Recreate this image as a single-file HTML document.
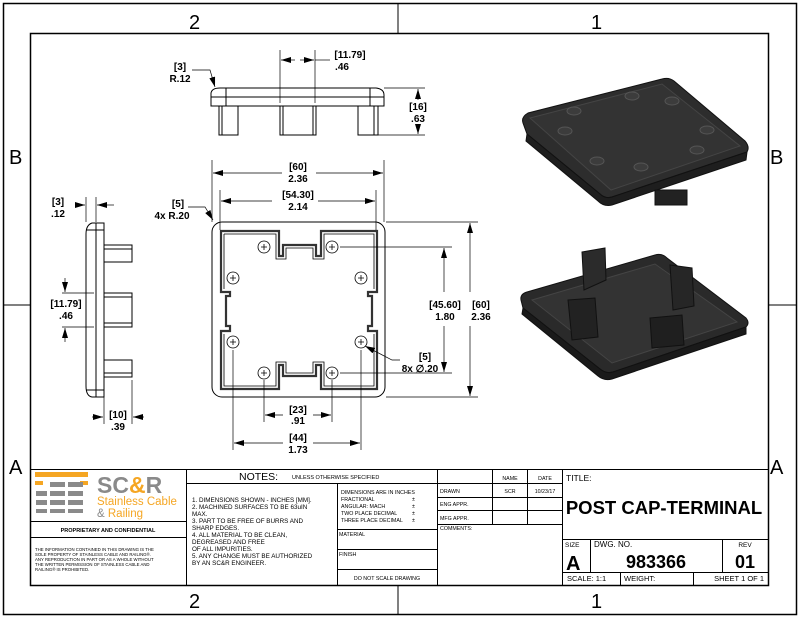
<!DOCTYPE html>
<html><head><meta charset="utf-8"><style>
html,body{margin:0;padding:0;background:#fff}
svg{display:block}
text{font-family:"Liberation Sans",Arial,sans-serif;fill:#000}
</style></head><body>
<svg width="800" height="618" viewBox="0 0 800 618" xmlns="http://www.w3.org/2000/svg">
<defs>
<marker id="ar" viewBox="0 0 10 6" refX="10" refY="3" markerWidth="10" markerHeight="6" orient="auto-start-reverse" markerUnits="userSpaceOnUse"><path d="M0,0 L10,3 L0,6 z" fill="#000"/></marker>
</defs>
<!-- frame -->
<rect x="3.5" y="3.5" width="793" height="611" fill="none" stroke="#000" stroke-width="1.5"/>
<rect x="30.5" y="33.5" width="738" height="552" fill="none" stroke="#000" stroke-width="1.5"/>
<line x1="398" y1="4" x2="398" y2="33" stroke="#000"/>
<line x1="398" y1="586" x2="398" y2="614" stroke="#000"/>
<line x1="4" y1="305" x2="30" y2="305" stroke="#000"/>
<line x1="769" y1="305" x2="796" y2="305" stroke="#000"/>
<g font-size="20">
<text x="189" y="29">2</text><text x="591" y="29">1</text>
<text x="189" y="608">2</text><text x="591" y="608">1</text>
<text x="9" y="164">B</text><text x="770" y="164">B</text>
<text x="9" y="474">A</text><text x="770" y="474">A</text>
</g>

<g stroke="#000" fill="none" stroke-width="1">
<!-- top view -->
<path d="M211,106 L211,93 Q212,88 220,88 L376,88 Q384,89 384,95 L384,106 Z"/>
<line x1="226" y1="88" x2="226" y2="106"/><line x1="370" y1="88" x2="370" y2="106"/>
<line x1="211" y1="97" x2="384" y2="97"/>
<rect x="219" y="106" width="19" height="29"/><line x1="222" y1="106" x2="222" y2="135"/>
<rect x="280" y="106" width="36" height="29"/><line x1="283" y1="106" x2="283" y2="135"/><line x1="313" y1="106" x2="313" y2="135"/>
<rect x="358" y="106" width="20" height="29"/><line x1="374" y1="106" x2="374" y2="135"/>
<!-- side view -->
<path d="M104,223 L92,223 Q86,225 86,234 L86,386 Q86,396 92,397 L104,397 Z"/>
<line x1="96" y1="223" x2="96" y2="397"/><line x1="86" y1="230" x2="104" y2="230"/><line x1="86" y1="390" x2="104" y2="390"/>
<rect x="104" y="245" width="28" height="17"/><line x1="104" y1="249" x2="132" y2="249"/>
<rect x="104" y="293" width="28" height="34"/><line x1="104" y1="297" x2="132" y2="297"/><line x1="104" y1="323" x2="132" y2="323"/>
<rect x="104" y="360" width="28" height="17"/><line x1="104" y1="373" x2="132" y2="373"/>
<!-- front view -->
<rect x="212" y="222" width="173" height="175" rx="10"/>
</g>
<g stroke="#333" fill="none" stroke-width="2.2">
<path d="M221,231 L279,231 L279,256 L283,256 L283,245 L316,245 L316,256 L321,256 L321,231 L377,231 L377,292 L368,292 L368,296 L372,296 L372,326 L368,326 L368,331 L377,331 L377,389 L321,389 L321,365 L316,365 L316,376 L283,376 L283,365 L279,365 L279,389 L221,389 L221,331 L230,331 L230,326 L226,326 L226,296 L230,296 L230,292 L221,292 Z"/>
</g>
<g stroke="#000" fill="none" stroke-width="0.8">
<path d="M224,234 L276,234 L276,259 L286,259 L286,248 L313,248 L313,259 L324,259 L324,234 L374,234 L374,289 M374,334 L374,386 L324,386 L324,362 L313,362 L313,373 L286,373 L286,362 L276,362 L276,386 L224,386 L224,334 M224,289 L224,234"/>
<circle cx="264" cy="247" r="6"/><circle cx="332" cy="247" r="6"/>
<circle cx="233" cy="278" r="6"/><circle cx="361" cy="278" r="6"/>
<circle cx="233" cy="342" r="6"/><circle cx="361" cy="342" r="6"/>
<circle cx="264" cy="373" r="6"/><circle cx="332" cy="373" r="6"/>
<path d="M261,247h6M264,244v6M329,247h6M332,244v6M230,278h6M233,275v6M358,278h6M361,275v6M230,342h6M233,339v6M358,342h6M361,339v6M261,373h6M264,370v6M329,373h6M332,370v6"/>
</g>

<!-- dimensions -->
<g stroke="#000" stroke-width="0.7" fill="none">
<line x1="212" y1="160" x2="212" y2="222"/><line x1="384" y1="160" x2="384" y2="222"/>
<line x1="213" y1="173" x2="282" y2="173" marker-start="url(#ar)"/><line x1="316" y1="173" x2="383" y2="173" marker-end="url(#ar)"/>
<line x1="220" y1="190" x2="220" y2="230"/><line x1="376" y1="190" x2="376" y2="230"/>
<line x1="221" y1="201" x2="272" y2="201" marker-start="url(#ar)"/><line x1="318" y1="201" x2="375" y2="201" marker-end="url(#ar)"/>
<line x1="340" y1="247" x2="452" y2="247"/><line x1="340" y1="373" x2="452" y2="373"/>
<line x1="444" y1="248" x2="444" y2="292" marker-start="url(#ar)"/><line x1="444" y1="326" x2="444" y2="372" marker-end="url(#ar)"/>
<line x1="386" y1="222" x2="478" y2="222"/><line x1="386" y1="397" x2="478" y2="397"/>
<line x1="470" y1="223" x2="470" y2="292" marker-start="url(#ar)"/><line x1="470" y1="326" x2="470" y2="396" marker-end="url(#ar)"/>
<line x1="264" y1="380" x2="264" y2="422"/><line x1="332" y1="380" x2="332" y2="422"/>
<line x1="265" y1="415" x2="283" y2="415" marker-start="url(#ar)"/><line x1="313" y1="415" x2="331" y2="415" marker-end="url(#ar)"/>
<line x1="233" y1="350" x2="233" y2="450"/><line x1="361" y1="350" x2="361" y2="450"/>
<line x1="234" y1="443" x2="283" y2="443" marker-start="url(#ar)"/><line x1="313" y1="443" x2="360" y2="443" marker-end="url(#ar)"/>
<path d="M365,346 L392,360 L400,360" marker-start="url(#ar)"/>
<path d="M188,207 L205,207 L213,220" marker-end="url(#ar)"/>
<!-- top view dims -->
<line x1="280" y1="50" x2="280" y2="103"/><line x1="315" y1="50" x2="315" y2="103"/>
<line x1="281" y1="60" x2="295" y2="60" marker-start="url(#ar)"/><line x1="300" y1="60" x2="314" y2="60" marker-end="url(#ar)"/>
<line x1="315" y1="60" x2="330" y2="60"/>
<line x1="384" y1="88" x2="425" y2="88"/><line x1="378" y1="135" x2="425" y2="135"/>
<line x1="418" y1="89" x2="418" y2="100" marker-start="url(#ar)"/><line x1="418" y1="124" x2="418" y2="134" marker-end="url(#ar)"/>
<path d="M192,70 L210,70 L215,87" marker-end="url(#ar)"/>
<!-- side view dims -->
<line x1="86" y1="197" x2="86" y2="222"/><line x1="96" y1="197" x2="96" y2="222"/>
<line x1="75" y1="205" x2="85" y2="205" marker-end="url(#ar)"/><line x1="107" y1="205" x2="97" y2="205" marker-end="url(#ar)"/>
<line x1="107" y1="205" x2="114" y2="205"/>
<line x1="62" y1="293" x2="94" y2="293"/><line x1="62" y1="327" x2="94" y2="327"/>
<line x1="65" y1="278" x2="65" y2="292" marker-end="url(#ar)"/><line x1="65" y1="342" x2="65" y2="328" marker-end="url(#ar)"/>
<line x1="104" y1="380" x2="104" y2="424"/><line x1="132" y1="380" x2="132" y2="424"/>
<line x1="92" y1="417" x2="103" y2="417" marker-end="url(#ar)"/><line x1="144" y1="417" x2="133" y2="417" marker-end="url(#ar)"/>
</g>
<g font-size="10" font-weight="bold">
<text x="298" y="170" text-anchor="middle">[60]</text><text x="298" y="182" text-anchor="middle">2.36</text>
<text x="298" y="198" text-anchor="middle">[54.30]</text><text x="298" y="210" text-anchor="middle">2.14</text>
<text x="445" y="308" text-anchor="middle">[45.60]</text><text x="445" y="320" text-anchor="middle">1.80</text>
<text x="481" y="308" text-anchor="middle">[60]</text><text x="481" y="320" text-anchor="middle">2.36</text>
<text x="298" y="413" text-anchor="middle">[23]</text><text x="298" y="424" text-anchor="middle">.91</text>
<text x="298" y="441" text-anchor="middle">[44]</text><text x="298" y="453" text-anchor="middle">1.73</text>
<text x="425" y="360" text-anchor="middle">[5]</text><text x="420" y="372" text-anchor="middle">8x ∅.20</text>
<text x="178" y="207" text-anchor="middle">[5]</text><text x="172" y="219" text-anchor="middle">4x R.20</text>
<text x="350" y="58" text-anchor="middle">[11.79]</text><text x="342" y="70" text-anchor="middle">.46</text>
<text x="418" y="110" text-anchor="middle">[16]</text><text x="418" y="122" text-anchor="middle">.63</text>
<text x="180" y="70" text-anchor="middle">[3]</text><text x="180" y="82" text-anchor="middle">R.12</text>
<text x="58" y="205" text-anchor="middle">[3]</text><text x="58" y="217" text-anchor="middle">.12</text>
<text x="66" y="307" text-anchor="middle">[11.79]</text><text x="66" y="319" text-anchor="middle">.46</text>
<text x="118" y="418" text-anchor="middle">[10]</text><text x="118" y="430" text-anchor="middle">.39</text>
</g>

<!-- 3D upper -->
<g stroke="#111" stroke-width="1">
<path d="M523,123 Q521,117 528,113 L662,79 Q669,77 674,81 L745,141 Q750,147 747,152 L612,197 Q605,199 600,194 L527,134 Z" fill="#2d2d2d"/>
<path d="M527,134 L600,194 Q605,199 612,197 L747,152 L746,160 L612,205 Q604,207 598,201 L526,141 Z" fill="#1e1e1e"/>
<rect x="655" y="190" width="32" height="15" fill="#222"/>
<path d="M530,118 L662,84 L740,146 L611,190 Z" fill="#333" stroke="#444"/>
<g fill="#3c3c3c" stroke="#555">
<ellipse cx="574" cy="111" rx="7" ry="4"/><ellipse cx="632" cy="96" rx="7" ry="4"/><ellipse cx="672" cy="101" rx="7" ry="4"/>
<ellipse cx="565" cy="131" rx="7" ry="4"/><ellipse cx="707" cy="130" rx="7" ry="4"/>
<ellipse cx="597" cy="161" rx="7" ry="4"/><ellipse cx="641" cy="167" rx="7" ry="4"/><ellipse cx="697" cy="150" rx="7" ry="4"/>
</g>
</g>
<!-- 3D lower -->
<g stroke="#111" stroke-width="1">
<path d="M521,300 Q520,294 527,292 L655,255 Q662,253 667,258 L746,318 Q750,323 746,327 L613,372 Q606,374 600,369 L523,308 Z" fill="#2a2a2a"/>
<path d="M523,308 L600,369 Q606,374 613,372 L746,327 L746,334 L612,379 Q604,381 598,376 L522,314 Z" fill="#1a1a1a"/>
<path d="M532,300 L655,264 L737,322 L612,363 Z" fill="#333" stroke="#444"/>
<path d="M582,252 L605,248 L606,280 L584,290 Z" fill="#2b2b2b"/>
<path d="M670,265 L692,268 L694,306 L673,310 Z" fill="#262626"/>
<path d="M568,300 L595,298 L598,337 L572,340 Z" fill="#222"/>
<path d="M650,318 L682,315 L684,345 L652,348 Z" fill="#1f1f1f"/>
</g>

<!-- title block -->
<g stroke="#000" stroke-width="1" fill="none">
<line x1="31" y1="469.5" x2="768" y2="469.5"/>
<line x1="186.5" y1="469" x2="186.5" y2="585"/>
<line x1="31" y1="521.5" x2="186" y2="521.5"/><line x1="31" y1="537.5" x2="186" y2="537.5"/>
<line x1="186" y1="483.5" x2="437" y2="483.5"/>
<line x1="337.5" y1="483" x2="337.5" y2="585"/>
<line x1="337" y1="529.5" x2="437" y2="529.5"/><line x1="337" y1="549.5" x2="437" y2="549.5"/><line x1="337" y1="569.5" x2="437" y2="569.5"/>
<line x1="437.5" y1="469" x2="437.5" y2="585"/>
<line x1="492.5" y1="469" x2="492.5" y2="524"/><line x1="527.5" y1="469" x2="527.5" y2="524"/>
<line x1="562.5" y1="469" x2="562.5" y2="585"/>
<line x1="437" y1="483.5" x2="562" y2="483.5"/><line x1="437" y1="497.5" x2="562" y2="497.5"/><line x1="437" y1="510.5" x2="562" y2="510.5"/><line x1="437" y1="524.5" x2="562" y2="524.5"/>
<line x1="562" y1="539.5" x2="768" y2="539.5"/><line x1="562" y1="572.5" x2="768" y2="572.5"/>
<line x1="590.5" y1="539" x2="590.5" y2="572"/><line x1="722.5" y1="539" x2="722.5" y2="572"/>
<line x1="620.5" y1="572" x2="620.5" y2="585"/><line x1="693.5" y1="572" x2="693.5" y2="585"/>
</g>
<!-- logo -->
<g fill="#f5a623">
<rect x="35" y="472" width="53" height="5"/>
<rect x="35" y="481" width="8" height="4"/><rect x="80" y="481" width="8" height="4"/>
</g>
<g fill="#8a8a8a">
<rect x="50" y="482" width="15" height="5"/><rect x="50" y="491" width="15" height="5"/><rect x="50" y="500" width="15" height="5"/><rect x="50" y="509" width="15" height="4"/>
<rect x="68" y="482" width="15" height="5"/><rect x="68" y="491" width="15" height="5"/><rect x="68" y="500" width="15" height="5"/><rect x="68" y="509" width="15" height="4"/>
<rect x="36" y="491" width="11" height="5"/><rect x="36" y="500" width="11" height="5"/><rect x="36" y="509" width="11" height="4"/>
</g>
<text x="97" y="493" font-size="23" font-weight="bold" style="fill:#8a8a8a">SC<tspan style="fill:#f5a623">&amp;</tspan>R</text>
<text x="97" y="505" font-size="11.5" style="fill:#f5a623">Stainless Cable</text>
<text x="97" y="517" font-size="11.5" style="fill:#f5a623"><tspan style="fill:#8a8a8a">&amp;</tspan> Railing</text>
<text x="108" y="532" font-size="5.5" font-weight="bold" text-anchor="middle">PROPRIETARY AND CONFIDENTIAL</text>
<g font-size="4.3">
<text x="35" y="551">THE INFORMATION CONTAINED IN THIS DRAWING IS THE</text>
<text x="35" y="556">SOLE PROPERTY OF STAINLESS CABLE AND RAILING®.</text>
<text x="35" y="561">ANY REPRODUCTION IN PART OR AS A WHOLE WITHOUT</text>
<text x="35" y="566">THE WRITTEN PERMISSION OF STAINLESS CABLE AND</text>
<text x="35" y="571">RAILING® IS PROHIBITED.</text>
</g>
<text x="239" y="480" font-size="10.5">NOTES:</text>
<text x="292" y="479" font-size="5.5">UNLESS OTHERWISE SPECIFIED</text>
<g font-size="6.3">
<text x="192" y="502">1. DIMENSIONS SHOWN - INCHES [MM].</text>
<text x="192" y="509">2. MACHINED SURFACES TO BE 63uIN</text>
<text x="192" y="516">MAX.</text>
<text x="192" y="523">3. PART TO BE FREE OF BURRS AND</text>
<text x="192" y="530">SHARP EDGES.</text>
<text x="192" y="537">4. ALL MATERIAL TO BE CLEAN,</text>
<text x="192" y="544">DEGREASED AND FREE</text>
<text x="192" y="551">OF ALL IMPURITIES.</text>
<text x="192" y="558">5. ANY CHANGE MUST BE AUTHORIZED</text>
<text x="192" y="565">BY AN SC&amp;R ENGINEER.</text>
</g>
<g font-size="5.3">
<text x="341" y="494">DIMENSIONS ARE IN INCHES</text>
<text x="341" y="501">FRACTIONAL</text><text x="412" y="501">±</text>
<text x="341" y="508">ANGULAR: MACH</text><text x="412" y="508">±</text>
<text x="341" y="515">TWO PLACE DECIMAL</text><text x="412" y="515">±</text>
<text x="341" y="522">THREE PLACE DECIMAL</text><text x="412" y="522">±</text>
<text x="339" y="536">MATERIAL</text>
<text x="339" y="556">FINISH</text>
<text x="387" y="580" text-anchor="middle">DO NOT SCALE DRAWING</text>
<text x="510" y="480" text-anchor="middle">NAME</text><text x="545" y="480" text-anchor="middle">DATE</text>
<text x="440" y="493">DRAWN</text><text x="510" y="493" text-anchor="middle">SCR</text><text x="545" y="493" text-anchor="middle">10/23/17</text>
<text x="440" y="506">ENG APPR.</text>
<text x="440" y="520">MFG APPR.</text>
<text x="440" y="530">COMMENTS:</text>
</g>
<text x="566" y="481" font-size="8.5">TITLE:</text>
<text x="664" y="514" font-size="18.5" font-weight="bold" text-anchor="middle">POST CAP-TERMINAL</text>
<text x="565" y="547" font-size="6.5">SIZE</text>
<text x="566" y="570" font-size="20" font-weight="bold">A</text>
<text x="594" y="547" font-size="8">DWG. NO.</text>
<text x="656" y="568" font-size="18" font-weight="bold" text-anchor="middle">983366</text>
<text x="745" y="547" font-size="6.5" text-anchor="middle">REV</text>
<text x="745" y="568" font-size="18" font-weight="bold" text-anchor="middle">01</text>
<text x="567" y="581" font-size="7.5">SCALE: 1:1</text>
<text x="624" y="581" font-size="7.5">WEIGHT:</text>
<text x="764" y="581" font-size="7.5" text-anchor="end">SHEET 1 OF 1</text>
</svg>
</body></html>
